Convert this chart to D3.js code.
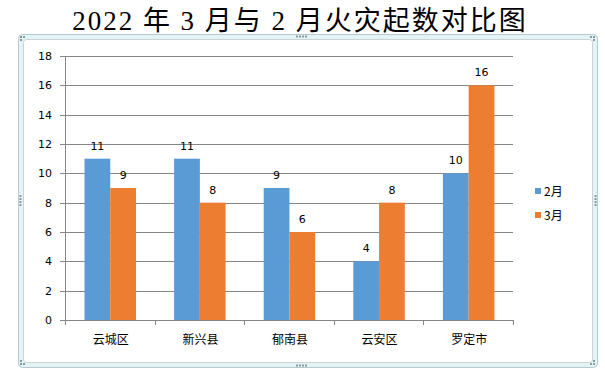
<!DOCTYPE html>
<html>
<head>
<meta charset="utf-8">
<script src="https://cdn.jsdelivr.net/npm/d3@7"></script>
<style>
  body { margin: 0; background: #fff; }
  svg text { font-family: "Noto Sans CJK SC", "DejaVu Sans", sans-serif; }
  svg text.title { font-family: "Liberation Serif", "DejaVu Serif", "Noto Sans CJK SC", serif; }
</style>
</head>
<body>
<div id="chart"></div>
<script>
const WIDTH = 605, HEIGHT = 378;

const categories = ["云城区", "新兴县", "郁南县", "云安区", "罗定市"];
const series = ["2月", "3月"];
const feb = [11, 11, 9, 4, 10];
const mar = [9, 8, 6, 8, 16];
const yTicks = [0, 2, 4, 6, 8, 10, 12, 14, 16, 18];
const colors = ["#5b9bd5", "#ed7d31"];

const M = { top: 56, left: 65, right: 513, bottom: 320 };

const svg = d3.select("#chart").append("svg")
  .attr("width", WIDTH).attr("height", HEIGHT);

// title
svg.append("text")
  .attr("class", "title")
  .attr("x", 300).attr("y", 30)
  .attr("text-anchor", "middle")
  .style("font-size", "27px")
  .style("letter-spacing", "2px")
  .text("2022 年 3 月与 2 月火灾起数对比图");

// selection frame
svg.append("rect").attr("x", 18.5).attr("y", 34.5).attr("width", 579).attr("height", 333)
  .attr("rx", 4).attr("fill", "#e2f4f6").attr("stroke", "#b8c8cc");
svg.append("rect").attr("x", 23.5).attr("y", 39.5).attr("width", 569).attr("height", 323)
  .attr("rx", 3).attr("fill", "#fff").attr("stroke", "#c8d4d6");
// handles
const dots = (cx, cy, vertical) => {
  for (let i = 0; i < 4; i++) {
    svg.append("rect")
      .attr("x", vertical ? cx - 1 : cx - 6 + i * 3)
      .attr("y", vertical ? cy - 6 + i * 3 : cy - 1)
      .attr("width", 2).attr("height", 2).attr("fill", "#8a9a9e");
  }
};
dots(302, 36.5, false);
dots(302, 365.5, false);
dots(20.5, 201, true);
dots(595.5, 201, true);
[[21, 37], [594, 37], [21, 364], [594, 364]].forEach(([x, y]) => {
  [[0, 0], [3, 0], [0, 3]].forEach(([dx, dy]) => {
    svg.append("rect").attr("x", x + (x > 300 ? -dx : dx) - 1).attr("y", y + (y > 200 ? -dy : dy) - 1)
      .attr("width", 2).attr("height", 2).attr("fill", "#8a9a9e");
  });
});

const x0 = d3.scaleBand().domain(categories).range([M.left, M.right]);
const x1 = d3.scaleBand().domain(series).range([19.5, 71]);
const y = d3.scaleLinear().domain([0, 18]).range([M.bottom, M.top]);

// gridlines
svg.append("g").selectAll("line").data(yTicks).join("line")
  .attr("x1", M.left - 5).attr("x2", M.right)
  .attr("y1", d => Math.round(y(d)) + 0.5).attr("y2", d => Math.round(y(d)) + 0.5)
  .attr("stroke", "#868686");

svg.append("g").selectAll("text").data(yTicks).join("text")
  .attr("x", 52).attr("y", d => y(d) + 4)
  .attr("text-anchor", "end")
  .style("font-family", "'DejaVu Sans', sans-serif")
  .style("font-size", "11px")
  .text(d => d);

// bars
const groups = svg.append("g").selectAll("g").data(categories).join("g")
  .attr("transform", d => `translate(${x0(d)},0)`);
const vals = (c, i) => [{ s: series[0], v: feb[i] }, { s: series[1], v: mar[i] }];
groups.selectAll("rect").data(vals).join("rect")
  .attr("x", d => x1(d.s))
  .attr("y", d => y(d.v))
  .attr("width", x1.bandwidth())
  .attr("height", d => y(0) - y(d.v))
  .attr("fill", (d, i) => colors[i]);
groups.selectAll("text").data(vals).join("text")
  .attr("x", d => x1(d.s) + x1.bandwidth() / 2)
  .attr("y", d => y(d.v) - 9)
  .attr("text-anchor", "middle")
  .style("font-family", "'DejaVu Sans', sans-serif")
  .style("font-size", "11px")
  .text(d => d.v);

// axes lines
svg.append("line").attr("x1", M.left + 0.5).attr("x2", M.left + 0.5)
  .attr("y1", M.top).attr("y2", M.bottom + 5).attr("stroke", "#868686");
svg.append("line").attr("x1", M.left).attr("x2", M.right)
  .attr("y1", M.bottom + 0.5).attr("y2", M.bottom + 0.5).attr("stroke", "#868686");
svg.append("g").selectAll("line").data(d3.range(categories.length + 1)).join("line")
  .attr("x1", i => Math.round(M.left + i * x0.step()) + 0.5)
  .attr("x2", i => Math.round(M.left + i * x0.step()) + 0.5)
  .attr("y1", M.bottom).attr("y2", M.bottom + 5).attr("stroke", "#868686");

svg.append("g").selectAll("text").data(categories).join("text")
  .attr("x", d => x0(d) + x0.bandwidth() / 2 + 1)
  .attr("y", 344)
  .attr("text-anchor", "middle")
  .style("font-size", "12px")
  .text(d => d);

// legend
const leg = svg.append("g").selectAll("g").data(series).join("g")
  .attr("transform", (d, i) => `translate(535,${191 + i * 24})`);
leg.append("rect").attr("x", 0).attr("y", -3).attr("width", 6).attr("height", 6)
  .attr("fill", (d, i) => colors[i]);
leg.append("text").attr("x", 9).attr("y", 5)
  .style("font-size", "12px")
  .text(d => d);
</script>
</body>
</html>
